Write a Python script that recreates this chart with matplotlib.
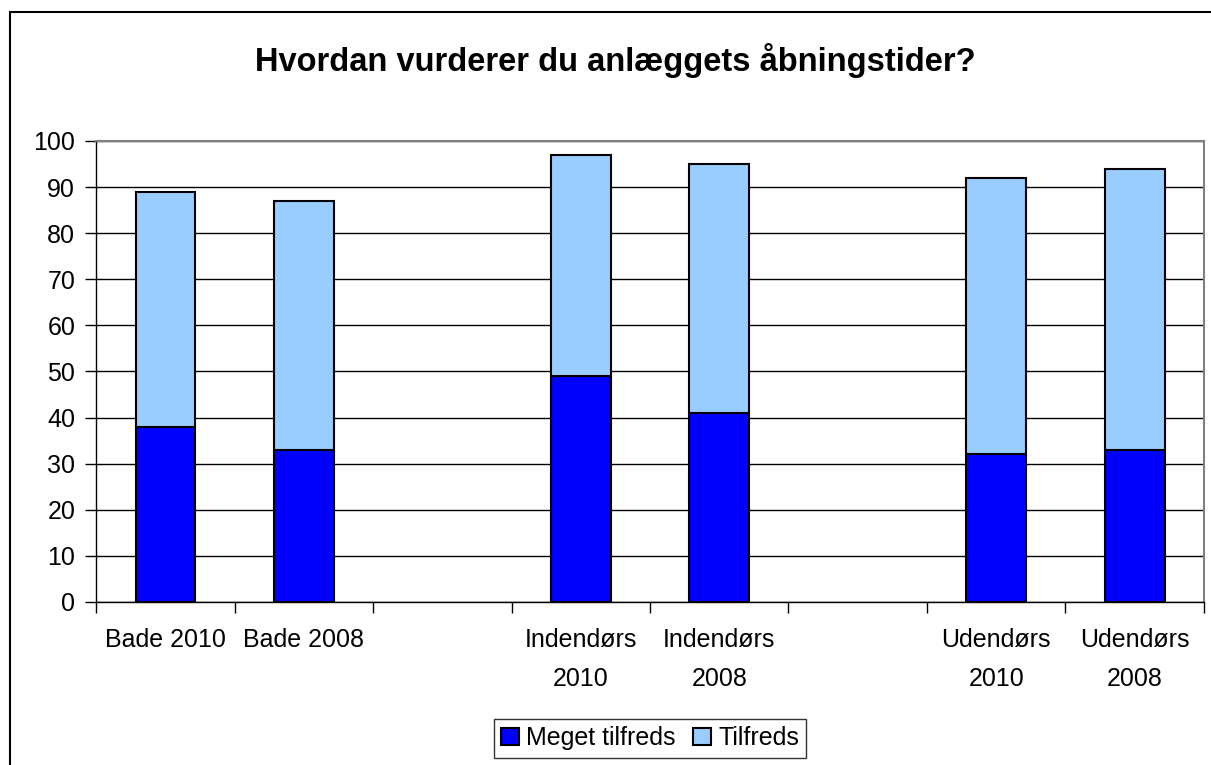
import numpy as np
import matplotlib.pyplot as plt
from matplotlib.patches import Rectangle

plt.rcParams['font.family'] = ['Liberation Sans', 'DejaVu Sans']

# Data (empty slots keep the gaps between groups)
categories = ['Bade 2010', 'Bade 2008', '', 'Indendørs\n2010', 'Indendørs\n2008', '',
              'Udendørs\n2010', 'Udendørs\n2008']
meget_tilfreds = [38, 33, np.nan, 49, 41, np.nan, 32, 33]
tilfreds = [51, 54, np.nan, 48, 54, np.nan, 60, 61]
series_names = ['Meget tilfreds', 'Tilfreds']
title = 'Hvordan vurderer du anlæggets åbningstider?'

fig = plt.figure(figsize=(12.11, 7.65), dpi=100)
ax = fig.add_axes([0.0793, 0.2131, 0.9149, 0.6026])

x = np.arange(len(categories))
m = np.array(meget_tilfreds, dtype=float)
t = np.array(tilfreds, dtype=float)
ok = ~np.isnan(m)

ax.bar(x[ok], m[ok], width=0.43, color='#0000FF', edgecolor='black', lw=1.5,
       label=series_names[0], zorder=3)
ax.bar(x[ok], t[ok], bottom=m[ok], width=0.43, color='#99CCFF', edgecolor='black',
       lw=1.5, label=series_names[1], zorder=3)

ax.set_xlim(-0.5, len(categories) - 0.5)
ax.set_ylim(0, 100)
ax.set_yticks(range(0, 101, 10))
ax.grid(axis='y', color='black', lw=1, zorder=0)

ax.set_xticks(x)
ax.set_xticklabels(categories, fontsize=18, linespacing=1.75, va='top')
ax.set_xticks(np.arange(-0.5, len(categories)), minor=True)
ax.tick_params(axis='x', which='major', length=0, pad=19)
ax.tick_params(axis='x', which='minor', length=8, width=1, color='black')
ax.tick_params(axis='y', labelsize=18, length=8, width=1, pad=7)

for side in ['top', 'right']:
    ax.spines[side].set_color('#808080')
    ax.spines[side].set_linewidth(1.5)
for side in ['left', 'bottom']:
    ax.spines[side].set_color('black')
    ax.spines[side].set_linewidth(1)

fig.text(0.508, 0.921, title, ha='center', va='center', fontsize=23.5, fontweight='bold')

leg = ax.legend(loc='center', bbox_to_anchor=(650 / 1211, 1 - 738 / 765),
                bbox_transform=fig.transFigure, ncol=2, fontsize=18, frameon=True,
                fancybox=False, edgecolor='black', handlelength=0.7, handleheight=0.7,
                handletextpad=0.3, columnspacing=0.7, borderpad=0.3, borderaxespad=0)
leg.get_frame().set_linewidth(1)

# outer chart frame, running past the right and bottom edges
fig.patches.append(Rectangle((10 / 1211, -0.05), 1.2, 1 - 12 / 765 + 0.05,
                             transform=fig.transFigure, fill=False, edgecolor='black',
                             lw=1.5, clip_on=False))

fig.savefig('out.png', dpi=100)
